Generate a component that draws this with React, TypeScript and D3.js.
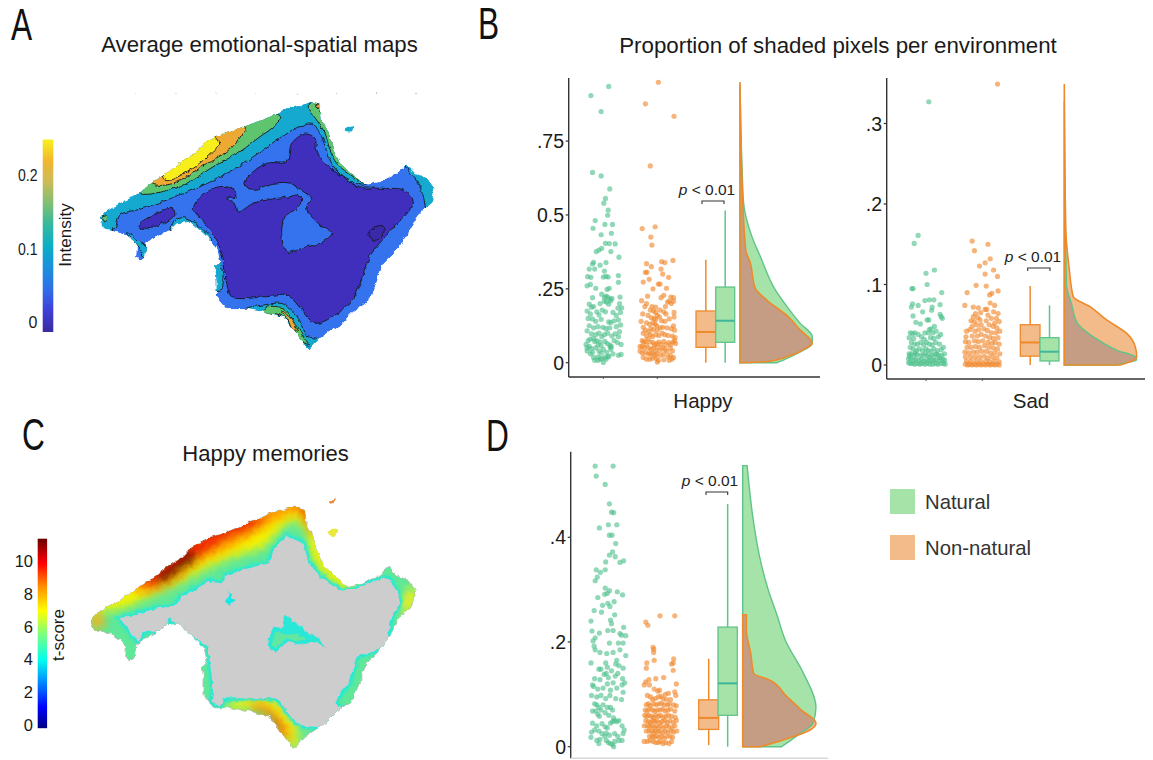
import React from "react";
import * as d3 from "d3";

type P = [number, number];

// ---------- Text and ticks ----------
const titleA = "Average emotional-spatial maps";
const titleB = "Proportion of shaded pixels per environment";
const titleC = "Happy memories";
const panelLetters: [string, number, number][] = [["A", 11, 40], ["B", 478, 39], ["C", 22, 450], ["D", 486, 451]];
const happyTicks: [number, string][] = [[0, "0"], [0.25, ".25"], [0.5, "0.5"], [0.75, ".75"]];
const sadTicks: [number, string][] = [[0, "0"], [0.1, ".1"], [0.2, ".2"], [0.3, ".3"]];
const memTicks: [number, string][] = [[0, "0"], [0.2, ".2"], [0.4, ".4"]];
const intensityTicks: [number, string][] = [[0, "0"], [0.1, "0.1"], [0.2, "0.2"]];
const tScoreTicks = [0, 2, 4, 6, 8, 10];
const parulaStops = ["#3a2c9f", "#3f3fd8", "#2f6fe8", "#1a90dc", "#0aaec6", "#35b8a0", "#7fbf74", "#c9bb58", "#f2b72f", "#f9ef1c"];
const jetStops: [number, string][] = [[0, "#00007f"], [0.11, "#0000ff"], [0.25, "#0090ff"], [0.36, "#00ffee"], [0.5, "#80ff7a"], [0.62, "#ffff00"], [0.75, "#ff8c00"], [0.87, "#ff0000"], [1, "#6b0000"]];

// ---------- Map outlines (map units of the source maps) ----------
const island: P[] = [[300,655],[318,635],[360,610],[400,590],[425,572],[460,545],[500,520],[540,490],[580,465],[620,425],[660,405],[720,385],[770,365],[810,350],[860,325],[900,318],[930,305],[960,315],[965,360],[985,395],[1000,450],[1020,490],[1060,525],[1095,555],[1140,545],[1190,520],[1220,495],[1245,520],[1280,535],[1303,565],[1295,610],[1275,625],[1250,650],[1225,700],[1190,750],[1150,790],[1125,860],[1105,905],[1060,935],[1020,975],[960,1015],[925,1050],[905,1020],[880,990],[850,950],[790,935],[730,925],[680,925],[650,890],[650,840],[645,800],[660,785],[650,740],[610,700],[570,665],[530,670],[510,690],[470,710],[440,730],[435,770],[420,785],[408,770],[410,740],[395,720],[360,695],[310,685]];
const islet: P[] = [[1032,388],[1045,380],[1062,376],[1056,392],[1040,394]];
const tealNorth: P[] = [[280,650],[400,570],[640,390],[920,290],[970,310],[1000,440],[1110,540],[1095,556],[1020,522],[985,470],[965,410],[935,370],[900,380],[830,420],[760,470],[680,520],[600,560],[500,600],[420,628],[360,645],[345,682],[320,695],[285,680]];
const tealEast: P[] = [[1218,490],[1310,540],[1310,620],[1282,632],[1270,590],[1250,540],[1225,510]];
const tealBay: P[] = [[510,692],[530,658],[560,655],[600,680],[635,722],[610,720],[560,680]];
const tealWest: P[] = [[380,698],[420,725],[440,745],[436,772],[415,745],[395,722]];
const tealSouth: P[] = [[730,928],[790,915],[850,912],[895,955],[920,1008],[960,1018],[925,1055],[880,1000],[830,950]];
const tealSide: P[] = [[655,785],[640,800],[645,870],[665,865],[668,820]];
const greenNorth: P[] = [[422,580],[500,572],[560,550],[640,500],[720,455],[780,410],[815,385],[842,352],[810,335],[700,360],[520,470],[425,555]];
const greenEast: P[] = [[930,308],[925,325],[950,360],[975,400],[990,450],[1010,490],[1060,530],[1095,552],[1110,540],[1030,470],[1000,410],[965,340],[965,310]];
const greenSouth: P[] = [[790,936],[800,922],[850,925],[880,960],[905,1000],[925,1035],[900,1020],[870,970],[840,945]];
const greenTip: P[] = [[305,653],[320,648],[322,660],[312,665]];
const orangeNorth: P[] = [[456,550],[500,555],[560,530],[620,490],[680,455],[720,415],[735,380],[650,385],[540,460],[465,525]];
const orangeEast: P[] = [[948,313],[972,313],[963,336]];
const orangeSouth: P[] = [[845,932],[872,955],[892,992],[880,992],[865,960]];
const yellowNorth: P[] = [[498,541],[530,532],[580,502],[625,468],[656,430],[640,410],[590,438],[530,472],[490,510]];
const darkMain: P[] = [[580,630],[600,590],[640,565],[680,560],[710,580],[705,595],[685,590],[685,600],[700,605],[715,635],[760,610],[830,595],[870,590],[890,585],[905,600],[890,625],[855,650],[845,700],[860,755],[920,740],[960,730],[995,700],[960,675],[920,625],[935,595],[910,575],[870,550],[820,550],[760,568],[735,555],[745,530],[800,490],[860,485],[875,430],[915,402],[945,415],[950,450],[975,490],[1020,525],[1075,560],[1150,565],[1210,570],[1240,605],[1210,650],[1165,700],[1115,760],[1100,790],[1080,850],[1060,895],[1020,935],[945,970],[910,935],[860,885],[800,890],[695,890],[680,850],[670,780],[650,720],[610,665]];
const darkWest: P[] = [[420,670],[450,650],[510,625],[525,640],[500,665],[440,685],[420,687]];
const darkEast: P[] = [[1107,700],[1120,685],[1152,682],[1140,715],[1120,720]];
const gridDots: P[] = [[408,280],[528,280],[648,280],[768,280],[890,280],[1010,280],[1130,280],[1250,280]];

const grayInterior: P[] = [[358,655],[400,645],[470,625],[520,620],[545,590],[600,560],[625,545],[665,550],[680,525],[760,500],[810,490],[820,450],[860,408],[910,430],[925,485],[960,530],[1020,570],[1060,570],[1130,540],[1165,535],[1195,580],[1200,610],[1175,650],[1165,700],[1162,735],[1110,758],[1070,770],[1058,810],[1050,845],[1020,880],[1008,910],[1035,935],[985,955],[975,985],[900,975],[880,960],[830,895],[670,895],[660,920],[635,905],[640,870],[630,790],[625,740],[580,710],[540,690],[510,652],[490,695],[430,695],[415,725],[395,700],[375,675]];
const cyanCentre: P[] = [[805,720],[820,680],[850,685],[855,645],[890,670],[920,695],[950,710],[965,720],[975,745],[950,725],[900,735],[860,725],[825,760],[808,745]];
const greenCentre: P[] = [[815,725],[830,695],[855,703],[880,700],[915,718],[880,722],[860,716],[825,745]];
const cyanSmall: P[] = [[675,605],[690,575],[695,595],[708,600],[690,618]];
const heatYellow: P[] = [[340,630],[450,590],[530,555],[610,510],[700,470],[790,440],[840,390],[880,360],[920,400],[935,470],[980,530],[1040,572],[1100,500],[800,250],[300,500],[250,620]];
const heatOrange: P[] = [[410,578],[500,560],[600,490],[700,440],[770,400],[850,350],[890,340],[920,350],[925,400],[950,400],[900,290],[600,370],[400,540]];
const heatRed: P[] = [[440,560],[500,545],[590,480],[680,420],[760,385],[800,345],[700,350],[600,400],[420,550]];
const heatRedNE: P[] = [[895,325],[925,325],[925,375],[905,350]];
const heatDark: P[] = [[480,552],[530,522],[590,475],[575,450],[520,490],[470,530]];
const heatTipW: P[] = [[270,650],[300,640],[315,665],[290,690]];
const heatYellowE: P[] = [[1205,590],[1250,560],[1250,600],[1215,650]];
const heatYellowS: P[] = [[690,900],[830,898],[895,990],[885,1050],[850,1010],[780,930],[690,925]];
const heatOrangeS: P[] = [[750,915],[800,915],[835,950],[872,1005],[860,1025],[825,985],[800,940],[750,930]];
const heatRedS: P[] = [[795,925],[820,935],[850,985],[835,985],[815,950]];
const cIsletA: P[] = [[985,398],[1012,385],[1012,402],[995,410]];
const cIsletB: P[] = [[988,302],[1008,295],[1002,305],[990,307]];

// ---------- Density outlines: [value, relative density] ----------
const happyNatDensity: P[] = [[0,0.51],[0.009,0.6],[0.032,0.8],[0.066,1],[0.088,1],[0.134,0.83],[0.19,0.65],[0.25,0.48],[0.36,0.28],[0.43,0.16],[0.54,0.05],[0.65,0.03],[0.82,0.01],[0.94,0]];
const happyNonDensity: P[] = [[0,0.02],[0.004,0.39],[0.02,0.65],[0.05,0.92],[0.066,1],[0.111,0.83],[0.155,0.67],[0.212,0.37],[0.253,0.21],[0.34,0.14],[0.38,0.08],[0.675,0.02],[0.95,0]];
const sadNatDensity: P[] = [[0,0.72],[0.003,0.86],[0.0062,1],[0.0095,0.99],[0.0186,0.72],[0.035,0.4],[0.052,0.18],[0.076,0.1],[0.10,0.03],[0.328,0]];
const sadNonDensity: P[] = [[0,0.77],[0.004,0.91],[0.0104,1],[0.0228,0.98],[0.039,0.866],[0.056,0.585],[0.0725,0.355],[0.0849,0.124],[0.118,0.07],[0.17,0.02],[0.349,0]];
const memNatDensity: P[] = [[0,0.53],[0.025,0.78],[0.045,0.96],[0.076,1],[0.14,0.83],[0.204,0.58],[0.255,0.46],[0.299,0.35],[0.363,0.23],[0.427,0.15],[0.537,0.06]];
const memNonDensity: P[] = [[0,0.24],[0.013,0.55],[0.032,0.92],[0.045,1],[0.07,0.8],[0.096,0.6],[0.127,0.37],[0.14,0.15],[0.178,0.11],[0.223,0.05],[0.252,0.05]];

// ---------- Box statistics: [low, q1, median, q3, high] ----------
const happyNonBox = [0, 0.052, 0.104, 0.175, 0.348];
const happyNatBox = [0, 0.069, 0.142, 0.256, 0.515];
const sadNonBox = [0, 0.011, 0.028, 0.05, 0.098];
const sadNatBox = [0, 0.005, 0.0165, 0.034, 0.074];
const memNonBox = [0.003, 0.033, 0.055, 0.0895, 0.168];
const memNatBox = [0, 0.06, 0.121, 0.2285, 0.4635];

// ---------- Points: [jitter, value] ----------
const happyNatPts: P[] = [[-23,.904],[10,.935],[-4,.85],[-20,.644],[-4,.632],[12,.588],[4,.556],[1,.54],[9,.516],[8,.499],[-15,.481],[-19,.455],[3,.468],[17,.468],[-4,.433],[15,.438],[4,.404],[11,.403],[22,.402],[29,.357],[-3,.387],[-8,.381],[-13,.376],[14,.376],[-18,.34],[-20,.334],[-6,.33],[5,.339],[-26,.317],[-16,.317],[2,.31],[28,.295],[-29,.291],[-23,.289],[0,.29],[5,.292],[9,.29],[-24,.265],[-14,.252],[28,.272],[11,.252],[7,.248],[-30,.26],[5,.225],[2,.22],[8,.222],[12,.215],[16,.218],[-20,.22],[-3,.232],[31,.222],[-18,.19],[-26,.198],[-22,.188],[2,.208],[6,.205],[-6,.2],[10,.198],[14,.21],[30,.2],[34,.186],[27,.185],[32,.17],[-30,.175],[-24,.165],[-12,.172],[-8,.162],[-2,.178],[4,.172],[18,.17],[24,.16],[-20,.148],[-28,.15],[-14,.14],[-4,.147],[10,.138],[14,.136],[20,.142],[28,.145],[32,.128],[-26,.125],[-18,.118],[-10,.122],[-1,.12],[5,.115],[12,.118],[24,.122],[30,.105],[-30,.108],[-22,.098],[-14,.095],[-8,.1],[-3,.088],[2,.095],[8,.1],[16,.09],[22,.098],[28,.088],[-28,.075],[-24,.08],[-18,.082],[-16,.072],[-12,.075],[-10,.06],[-6,.07],[-4,.058],[3,.072],[7,.065],[12,.06],[13,.052],[15,.055],[20,.075],[26,.068],[33,.062],[-32,.062],[-30,.05],[-26,.055],[-22,.048],[-30,.04],[-20,.035],[-14,.05],[-8,.04],[-4,.032],[0,.045],[6,.035],[10,.022],[14,.045],[18,.03],[28,.025],[33,.028],[-24,.03],[-18,.018],[-10,.02],[-6,.012],[-3,.015],[3,.018],[9,.02],[-16,.008],[0,.001],[5,.012],[-10,.008]];
const happyNonPts: P[] = [[2,.949],[-22,.876],[31,.834],[-13,.666],[-28,.454],[-4,.46],[-12,.425],[-10,.398],[29,.346],[8,.342],[14,.339],[-20,.335],[-11,.325],[7,.317],[-22,.306],[-19,.306],[10,.3],[21,.289],[-26,.273],[-15,.282],[2,.266],[5,.266],[-8,.25],[17,.252],[7,.22],[-18,.225],[12,.228],[25,.222],[30,.22],[-29,.21],[-20,.2],[19,.205],[22,.208],[30,.208],[-10,.19],[-3,.188],[-13,.178],[-23,.19],[15,.19],[26,.2],[-7,.175],[-3,.17],[5,.178],[12,.172],[-27,.165],[-17,.16],[-11,.152],[-6,.15],[-3,.145],[0,.16],[4,.155],[16,.165],[31,.17],[31,.155],[-30,.14],[-20,.135],[-14,.13],[-8,.135],[-4,.13],[-1,.125],[8,.142],[14,.14],[22,.148],[30,.125],[-26,.12],[-22,.11],[-16,.105],[-12,.115],[-7,.112],[0,.11],[5,.118],[10,.12],[18,.118],[26,.115],[32,.11],[-26,.1],[-20,.09],[-13,.095],[-9,.088],[-3,.095],[3,.092],[9,.1],[14,.095],[20,.092],[28,.09],[33,.085],[-28,.075],[-26,.07],[-22,.072],[-17,.08],[-13,.07],[-8,.068],[-5,.06],[-1,.065],[3,.07],[7,.062],[12,.072],[16,.06],[21,.068],[25,.062],[29,.07],[32,.075],[34,.065],[-32,.055],[-28,.055],[-24,.05],[-20,.06],[-16,.05],[-12,.045],[-7,.05],[-3,.04],[1,.052],[5,.042],[10,.05],[14,.045],[18,.038],[24,.05],[28,.04],[-32,.04],[-28,.033],[-22,.035],[-17,.03],[-13,.03],[-9,.032],[-5,.025],[-1,.03],[6,.025],[12,.028],[20,.02],[24,.025],[30,.018],[27,.012],[-26,.018],[-20,.012],[-14,.012],[-9,.015],[0,.002],[2,.008],[12,.01],[22,.008],[-2,.015]];
const sadNatPts: P[] = [[5,.327],[-14,.161],[-21,.151],[15,.118],[0,.114],[2,.1],[-25,.095],[-23,.095],[28,.09],[14,.081],[6,.081],[-2,.08],[-24,.076],[25,.075],[-14,.074],[-26,.072],[11,.072],[10,.068],[-6,.066],[25,.063],[27,.06],[29,.058],[-23,.061],[2,.056],[5,.056],[-18,.053],[-10,.051],[15,.048],[9,.045],[6,.044],[-2,.04],[-28,.04],[-24,.039],[-20,.04],[-14,.038],[4,.04],[12,.04],[18,.042],[26,.038],[-30,.034],[-22,.033],[-8,.035],[-3,.032],[8,.034],[14,.033],[22,.035],[-26,.028],[-20,.026],[-15,.026],[-9,.028],[-4,.025],[1,.028],[6,.026],[11,.025],[17,.028],[24,.026],[31,.022],[-28,.022],[-23,.02],[-17,.018],[-12,.02],[-6,.018],[0,.02],[4,.018],[9,.017],[14,.02],[20,.018],[27,.019],[-30,.014],[-26,.014],[-21,.012],[-16,.013],[-10,.012],[-5,.012],[-1,.014],[3,.012],[7,.01],[11,.012],[16,.013],[22,.012],[28,.012],[33,.014],[-31,.008],[-27,.008],[-22,.006],[-18,.007],[-13,.006],[-8,.007],[-4,.005],[1,.007],[5,.005],[10,.006],[14,.006],[18,.007],[24,.006],[30,.007],[33,.006],[-31,.003],[-28,.002],[-24,.002],[-20,.001],[-15,.002],[-11,.001],[-7,.002],[-2,.001],[2,.002],[7,.001],[12,.001],[17,.002],[21,.001],[26,.002],[31,.002],[34,.001],[-29,.011],[25,.009],[-19,.015],[19,.014]];
const sadNonPts: P[] = [[27,.349],[-18,.154],[10,.15],[-14,.142],[14,.132],[5,.127],[-5,.123],[20,.118],[5,.113],[27,.11],[-11,.099],[7,.098],[-27,.09],[28,.092],[17,.089],[13,.087],[14,.077],[-31,.074],[-16,.072],[22,.074],[-7,.071],[5,.069],[8,.069],[-12,.064],[-3,.065],[20,.066],[28,.064],[-16,.06],[-8,.059],[10,.062],[16,.058],[25,.058],[-20,.055],[-14,.054],[-4,.056],[7,.055],[22,.052],[30,.054],[-18,.048],[-10,.05],[-2,.05],[12,.05],[19,.048],[26,.046],[-28,.042],[-22,.044],[-13,.042],[-6,.044],[3,.045],[9,.043],[16,.04],[24,.04],[31,.042],[-29,.035],[-18,.036],[-9,.036],[-2,.038],[6,.036],[13,.034],[20,.033],[28,.034],[-30,.029],[-24,.028],[-14,.03],[-7,.029],[1,.03],[10,.028],[17,.027],[23,.028],[30,.026],[-27,.022],[-20,.022],[-12,.023],[-5,.022],[4,.024],[12,.022],[20,.021],[27,.02],[-31,.016],[-24,.015],[-16,.016],[-9,.016],[-1,.017],[7,.017],[14,.015],[22,.015],[31,.014],[-30,.01],[-21,.01],[-13,.01],[-5,.01],[3,.011],[10,.009],[18,.01],[26,.009],[-28,.005],[-20,.005],[-11,.005],[-3,.005],[6,.005],[13,.004],[21,.005],[30,.004],[-30,.001],[-26,0],[-22,.001],[-18,0],[-14,.001],[-10,0],[-6,.001],[-2,0],[2,.001],[6,0],[10,.001],[14,0],[18,.001],[22,0],[26,.001],[30,0]];
const memNatPts: P[] = [[-23,.536],[11,.536],[-21,.517],[-4,.501],[4,.464],[8,.448],[12,.447],[-15,.418],[2,.424],[18,.424],[4,.404],[9,.404],[16,.388],[10,.372],[4,.366],[15,.363],[24,.352],[31,.355],[-3,.353],[-21,.338],[-13,.333],[-4,.338],[-19,.324],[-23,.317],[-4,.303],[4,.298],[0,.293],[19,.296],[29,.29],[-18,.285],[-5,.291],[13,.277],[1,.274],[5,.268],[-9,.27],[-25,.26],[-11,.257],[14,.252],[-31,.24],[6,.242],[8,.235],[31,.228],[1,.222],[11,.222],[-29,.221],[-15,.217],[24,.216],[27,.213],[35,.212],[-23,.208],[-27,.202],[-25,.192],[-23,.185],[4,.198],[-14,.18],[-1,.178],[21,.198],[24,.185],[30,.198],[11,.18],[35,.174],[18,.165],[-31,.16],[-16,.148],[-12,.148],[-3,.16],[0,.152],[-2,.14],[16,.158],[22,.155],[30,.15],[-24,.13],[-14,.128],[-6,.138],[2,.132],[8,.145],[15,.135],[20,.14],[29,.13],[33,.122],[-28,.118],[-26,.115],[-18,.11],[-8,.112],[0,.12],[6,.108],[11,.122],[18,.112],[28,.118],[30,.104],[-30,.098],[-20,.095],[-12,.098],[-3,.092],[5,.098],[16,.092],[27,.09],[-24,.082],[-20,.08],[-16,.075],[-12,.07],[-8,.08],[0,.075],[6,.075],[10,.07],[-28,.068],[-22,.068],[-18,.062],[-15,.058],[-4,.065],[3,.06],[12,.055],[14,.05],[18,.048],[22,.05],[-28,.045],[-20,.04],[-10,.044],[-4,.038],[0,.036],[6,.045],[10,.048],[28,.04],[32,.032],[-30,.028],[-24,.032],[-16,.03],[-10,.025],[-5,.02],[-2,.026],[4,.022],[14,.025],[20,.02],[30,.025],[-31,.018],[-20,.012],[-16,.006],[-14,.014],[-2,.012],[2,.008],[6,.006],[10,.004],[14,.01],[22,.012],[28,.012],[12,0]];
const memNonPts: P[] = [[0,.25],[28,.25],[-27,.238],[-23,.232],[-13,.19],[-12,.18],[-12,.186],[-25,.16],[-11,.165],[26,.168],[25,.16],[22,.158],[-26,.15],[25,.146],[-27,.124],[-21,.128],[-8,.13],[7,.132],[-30,.118],[-20,.118],[31,.12],[-11,.11],[-4,.106],[-1,.108],[10,.1],[16,.102],[28,.105],[30,.098],[-24,.098],[-18,.095],[-14,.09],[-9,.092],[-3,.095],[2,.096],[6,.092],[12,.09],[20,.09],[-26,.08],[-22,.082],[-18,.078],[-12,.082],[-7,.08],[-2,.082],[3,.083],[8,.08],[14,.08],[18,.082],[26,.08],[31,.078],[-28,.07],[-24,.068],[-20,.072],[-14,.07],[-10,.068],[-5,.07],[0,.07],[5,.072],[10,.068],[15,.07],[20,.072],[28,.068],[-29,.06],[-25,.058],[-21,.06],[-16,.058],[-12,.056],[-8,.06],[-3,.058],[1,.06],[6,.056],[11,.058],[16,.06],[22,.058],[29,.056],[-27,.05],[-22,.048],[-18,.046],[-14,.05],[-10,.048],[-6,.05],[-1,.046],[4,.048],[9,.05],[14,.046],[19,.05],[25,.046],[31,.05],[-30,.04],[-24,.04],[-20,.038],[-15,.04],[-11,.036],[-7,.04],[-3,.036],[2,.04],[7,.036],[12,.04],[17,.038],[23,.036],[28,.04],[-26,.03],[-21,.03],[-16,.03],[-12,.026],[-9,.03],[-4,.028],[0,.03],[5,.026],[10,.03],[15,.028],[21,.03],[26,.028],[32,.03],[-20,.02],[-15,.02],[-11,.018],[-7,.02],[-2,.018],[3,.02],[8,.016],[13,.02],[19,.02],[24,.018],[-30,.01],[-24,.01],[-19,.012],[-13,.01],[-8,.008],[-3,.008],[1,.01],[6,.006],[11,.008],[17,.006],[22,.01]];

const GREEN = "#5fc48a";
const GREEN_FILL = "#a6e3a8";
const GREEN_MED = "#3fb79a";
const ORANGE = "#ef8a2a";
const ORANGE_FILL = "#f3ba8a";
const OVERLAP_FILL = "#c49d84";

interface Panel {
  id: string; axisX: number; axisTop: number; axisBottom: number; axisRight: number; tickRight: number;
  zeroY: number; unit: number; ticks: [number, string][];
  catGreen: number; catOrange: number;
  natPts: P[]; nonPts: P[];
  natBox: number[]; nonBox: number[];
  boxOrange: [number, number]; boxGreen: [number, number];
  natDensity: P[]; nonDensity: P[];
  cloudBase: number; cloudWidth: number;
  pX: number; pY: number; brX: [number, number]; brY: number;
  label?: [string, number]; axisColor?: string; xTicks: boolean;
}

const panels: Panel[] = [
  { id: "happy", axisX: 568.7, axisTop: 78, axisBottom: 377, axisRight: 820, tickRight: 564, zeroY: 362.7, unit: 295.5, ticks: happyTicks,
    catGreen: 603.3, catOrange: 657.3, natPts: happyNatPts, nonPts: happyNonPts, natBox: happyNatBox, nonBox: happyNonBox,
    boxOrange: [696, 715.7], boxGreen: [715.7, 734.7], natDensity: happyNatDensity, nonDensity: happyNonDensity,
    cloudBase: 740, cloudWidth: 72.3, pX: 707, pY: 195, brX: [702, 724], brY: 201, label: ["Happy", 703], xTicks: true },
  { id: "sad", axisX: 886.7, axisTop: 78, axisBottom: 379, axisRight: 1145, tickRight: 882, zeroY: 365, unit: 805, ticks: sadTicks,
    catGreen: 926, catOrange: 982.3, natPts: sadNatPts, nonPts: sadNonPts, natBox: sadNatBox, nonBox: sadNonBox,
    boxOrange: [1020.3, 1040], boxGreen: [1040, 1059], natDensity: sadNatDensity, nonDensity: sadNonDensity,
    cloudBase: 1064.3, cloudWidth: 72.4, pX: 1033, pY: 262, brX: [1027.7, 1050], brY: 268, label: ["Sad", 1031], xTicks: true },
  { id: "mem", axisX: 570.7, axisTop: 451.7, axisBottom: 758.3, axisRight: 828, tickRight: 566, zeroY: 746.7, unit: 523.5, ticks: memTicks,
    catGreen: 607.3, catOrange: 660, natPts: memNatPts, nonPts: memNonPts, natBox: memNatBox, nonBox: memNonBox,
    boxOrange: [698.7, 718.7], boxGreen: [718, 737.3], natDensity: memNatDensity, nonDensity: memNonDensity,
    cloudBase: 742.7, cloudWidth: 73.3, pX: 710, pY: 486, brX: [706, 727.7], brY: 492, axisColor: "#d8d8d8", xTicks: false },
];

const sans = "'Liberation Sans', Arial, sans-serif";

function Box({ stats, x0, x1, y, color, fill, med }: { stats: number[]; x0: number; x1: number; y: d3.ScaleLinear<number, number>; color: string; fill: string; med: string }) {
  const cx = (x0 + x1) / 2;
  return (
    <g>
      <line x1={cx} x2={cx} y1={y(stats[0])} y2={y(stats[4])} stroke={color} strokeWidth={1.5} />
      <rect x={x0} width={x1 - x0} y={y(stats[3])} height={y(stats[1]) - y(stats[3])} fill={fill} stroke={color} strokeWidth={1.3} />
      <line x1={x0} x2={x1} y1={y(stats[2])} y2={y(stats[2])} stroke={med} strokeWidth={2} />
    </g>
  );
}

function Raincloud({ p }: { p: Panel }) {
  const y = d3.scaleLinear([0, 1], [p.zeroY, p.zeroY - p.unit]);
  const dx = d3.scaleLinear([0, 1], [p.cloudBase, p.cloudBase + p.cloudWidth]);
  const jitter = (cat: number) => d3.scaleLinear([0, 100], [cat, cat + (p.catOrange - p.catGreen)]);
  const jg = jitter(p.catGreen);
  const jo = jitter(p.catOrange);
  const cloud = (data: P[]) => d3.area<P>().y((d) => y(d[0])).x0(p.cloudBase).x1((d) => dx(d[1])).curve(d3.curveMonotoneY)(data) || "";
  const nat = cloud(p.natDensity);
  const non = cloud(p.nonDensity);
  return (
    <g>
      <defs><clipPath id={"nat-" + p.id}><path d={nat} /></clipPath></defs>
      <line x1={p.axisX} x2={p.axisX} y1={p.axisTop} y2={p.axisBottom} stroke="#333" strokeWidth={1.4} />
      <line x1={p.axisX} x2={p.axisRight} y1={p.axisBottom} y2={p.axisBottom} stroke={p.axisColor || "#333"} strokeWidth={1.4} />
      {p.ticks.map(([v, t]) => (
        <g key={t}>
          <line x1={p.axisX - 3} x2={p.axisX} y1={y(v)} y2={y(v)} stroke="#333" strokeWidth={1.2} />
          <text x={p.tickRight} y={y(v) + 7} textAnchor="end" fontFamily={sans} fontSize={19.5} fill="#1a1a1a">{t}</text>
        </g>
      ))}
      {p.xTicks && [p.catGreen, p.catOrange].map((c) => <line key={c} x1={c} x2={c} y1={p.axisBottom} y2={p.axisBottom + 2} stroke="#555" />)}
      {p.natPts.map(([j, v], i) => <circle key={"g" + i} cx={jg(j)} cy={y(v)} r={2.6} fill="#4cc08a" fillOpacity={0.62} />)}
      {p.nonPts.map(([j, v], i) => <circle key={"o" + i} cx={jo(j)} cy={y(v)} r={2.6} fill="#f0862a" fillOpacity={0.62} />)}
      <Box stats={p.nonBox} x0={p.boxOrange[0]} x1={p.boxOrange[1]} y={y} color={ORANGE} fill={ORANGE_FILL} med={ORANGE} />
      <Box stats={p.natBox} x0={p.boxGreen[0]} x1={p.boxGreen[1]} y={y} color={GREEN} fill={GREEN_FILL} med={GREEN_MED} />
      <path d={nat} fill={GREEN_FILL} />
      <path d={non} fill={ORANGE_FILL} />
      <path d={non} fill={OVERLAP_FILL} clipPath={`url(#nat-${p.id})`} />
      <path d={nat} fill="none" stroke={GREEN} strokeWidth={1.4} />
      <path d={non} fill="none" stroke={ORANGE} strokeWidth={1.6} />
      <text x={p.pX} y={p.pY} textAnchor="middle" fontFamily={sans} fontSize={15.5} fill="#222">
        <tspan fontStyle="italic">p</tspan> &lt; 0.01
      </text>
      <path d={`M${p.brX[0]},${p.brY + 3}V${p.brY}H${p.brX[1]}V${p.brY + 3}`} fill="none" stroke="#333" strokeWidth={1.1} />
      {p.label && <text x={p.label[1]} y={408} textAnchor="middle" fontFamily={sans} fontSize={20.5} fill="#222">{p.label[0]}</text>}
    </g>
  );
}

function MapA() {
  const x = d3.scaleLinear([0, 1350], [0, 450]);
  const y = d3.scaleLinear([0, 1140], [0, 380]);
  const smooth = d3.line<P>().x((d) => x(d[0])).y((d) => y(d[1])).curve(d3.curveCatmullRomClosed.alpha(0.5));
  const raw = d3.line<P>().x((d) => x(d[0])).y((d) => y(d[1])).curve(d3.curveLinearClosed);
  const layers: [P[], string, boolean][] = [
    [tealNorth, "#19a9cf", true], [tealEast, "#19a9cf", true], [tealBay, "#19a9cf", true], [tealWest, "#19a9cf", true], [tealSouth, "#19a9cf", true], [tealSide, "#19a9cf", true],
    [greenNorth, "#5ec46e", true], [greenEast, "#5ec46e", true], [greenSouth, "#5ec46e", true], [greenTip, "#5ec46e", true],
    [orangeNorth, "#eea935", true], [orangeEast, "#eea935", false], [orangeSouth, "#eea935", true],
    [yellowNorth, "#f8ee1e", true],
    [darkMain, "#3f2fbc", true], [darkWest, "#3f2fbc", true], [darkEast, "#3a2ba8", true],
  ];
  return (
    <g filter="url(#coast)">
      <g clipPath="url(#clipA)">
        <path d={raw(island) || ""} fill="#3473ee" />
        {layers.map(([pts, c, s], i) => (
          <path key={i} d={(s ? smooth(pts) : raw(pts)) || ""} fill={c} stroke="#16161c" strokeWidth={0.9} />
        ))}
      </g>
      <path d={smooth(islet) || ""} fill="#19a9cf" />
      {gridDots.map(([a, b], i) => <circle key={i} cx={x(a)} cy={y(b)} r={0.6} fill="#bcbcbc" />)}
    </g>
  );
}

function MapC() {
  const x = d3.scaleLinear([0, 1350], [0, 450]);
  const y = d3.scaleLinear([0, 1080], [400, 760]);
  const ix = d3.scaleLinear([300, 1303], [272 / 3, 1247 / 3]);
  const iy = d3.scaleLinear([305, 1050], [400 + 318 / 3, 400 + 1045 / 3]);
  const isl = d3.line<P>().x((d) => ix(d[0])).y((d) => iy(d[1])).curve(d3.curveLinearClosed);
  const line = d3.line<P>().x((d) => x(d[0])).y((d) => y(d[1])).curve(d3.curveCatmullRomClosed.alpha(0.5));
  const raw = d3.line<P>().x((d) => x(d[0])).y((d) => y(d[1])).curve(d3.curveLinearClosed);
  const heat: [P[], string][] = [
    [heatYellow, "#f4f200"], [heatYellowE, "#e8ee20"], [heatYellowS, "#e9ef18"], [heatTipW, "#ffb010"],
    [heatOrange, "#ff9800"], [heatOrangeS, "#ff8a00"], [heatRed, "#f02a00"], [heatRedNE, "#e81c00"], [heatRedS, "#e82800"], [heatDark, "#6e0000"],
  ];
  return (
    <g filter="url(#coast)">
      <defs><clipPath id="clipC"><path d={isl(island) || ""} /></clipPath></defs>
      <path d={isl(island) || ""} fill="none" stroke="#b5b5b5" strokeWidth={1} />
      <g clipPath="url(#clipC)">
        <path d={isl(island) || ""} fill="#5ee898" />
        <g filter="url(#heatBlur)">
          {heat.map(([pts, c], i) => <path key={i} d={line(pts) || ""} fill={c} />)}
        </g>
        <path d={raw(grayInterior) || ""} fill="none" stroke="#22e8dc" strokeWidth={5} filter="url(#ringBlur)" />
        <path d={raw(grayInterior) || ""} fill="#cdcdcd" />
        <path d={raw(cyanCentre) || ""} fill="#29e8d8" />
        <path d={line(greenCentre) || ""} fill="#62e6a0" />
        <path d={raw(cyanSmall) || ""} fill="#18e8e8" />
      </g>
      <path d={line(cIsletA) || ""} fill="#e9e93a" />
      <path d={line(cIsletB) || ""} fill="#ee8a3a" />
    </g>
  );
}

function ColorBars() {
  const ya = d3.scaleLinear([0, 0.2], [322, 175]);
  const yc = d3.scaleLinear([0, 10], [725, 561]);
  return (
    <g fontFamily={sans} fill="#1a1a1a">
      <defs>
        <linearGradient id="parula" x1="0" x2="0" y1="1" y2="0">
          {parulaStops.map((c, i) => <stop key={i} offset={i / (parulaStops.length - 1)} stopColor={c} />)}
        </linearGradient>
        <linearGradient id="jet" x1="0" x2="0" y1="1" y2="0">
          {jetStops.map(([o, c], i) => <stop key={i} offset={o} stopColor={c} />)}
        </linearGradient>
      </defs>
      <rect x={42.7} y={139.5} width={10.6} height={192.5} fill="url(#parula)" />
      {intensityTicks.map(([v, t]) => <text key={t} x={37.5} y={ya(v) + 6} textAnchor="end" fontSize={16} textLength={t === "0" ? undefined : 19.5} lengthAdjust="spacingAndGlyphs">{t}</text>)}
      <text transform="translate(71,235) rotate(-90)" textAnchor="middle" fontSize={17}>Intensity</text>
      <rect x={37.7} y={538.7} width={9.4} height={189.5} fill="url(#jet)" />
      {tScoreTicks.map((v) => <text key={v} x={33} y={yc(v) + 6} textAnchor="end" fontSize={16.5}>{v}</text>)}
      <text transform="translate(64,635) rotate(-90)" textAnchor="middle" fontSize={17}>t-score</text>
    </g>
  );
}

export default function App() {
  const ax = d3.scaleLinear([0, 1350], [0, 450]);
  const ay = d3.scaleLinear([0, 1140], [0, 380]);
  const clipA = d3.line<P>().x((d) => ax(d[0])).y((d) => ay(d[1])).curve(d3.curveLinearClosed)(island) || "";
  return (
    <svg width={1153} height={760} viewBox="0 0 1153 760" style={{ position: "absolute", left: 0, top: 0, background: "#fff" }}>
      <defs>
        <clipPath id="clipA"><path d={clipA} /></clipPath>
        <filter id="coast" x="-5%" y="-5%" width="110%" height="110%">
          <feTurbulence type="fractalNoise" baseFrequency="0.17" numOctaves="2" seed="4" result="n" />
          <feDisplacementMap in="SourceGraphic" in2="n" scale="4.5" xChannelSelector="R" yChannelSelector="G" />
          <feGaussianBlur stdDeviation="0.4" />
        </filter>
        <filter id="heatBlur" x="-10%" y="-10%" width="120%" height="120%"><feGaussianBlur stdDeviation="5" /></filter>
        <filter id="ringBlur" x="-5%" y="-5%" width="110%" height="110%"><feGaussianBlur stdDeviation="1.5" /></filter>
      </defs>
      {panelLetters.map(([t, x, y]) => (
        <text key={t} transform={`translate(${x},${y}) scale(0.72,1)`} fontFamily={sans} fontSize={44} fill="#111">{t}</text>
      ))}
      <text x={259.5} y={52} textAnchor="middle" fontFamily={sans} fontSize={22.2} fill="#1a1a1a">{titleA}</text>
      <text x={838} y={53} textAnchor="middle" fontFamily={sans} fontSize={22.3} fill="#1a1a1a">{titleB}</text>
      <text x={265.5} y={461} textAnchor="middle" fontFamily={sans} fontSize={22} fill="#1a1a1a">{titleC}</text>
      <MapA />
      <MapC />
      <ColorBars />
      {panels.map((p) => <Raincloud key={p.id} p={p} />)}
      <rect x={890} y={489} width={25} height={25} fill={GREEN_FILL} />
      <text x={925} y={509} fontFamily={sans} fontSize={20.3} fill="#333">Natural</text>
      <rect x={890} y={535} width={25} height={25} fill={ORANGE_FILL} />
      <text x={925} y={555} fontFamily={sans} fontSize={20.3} fill="#333">Non-natural</text>
    </svg>
  );
}
